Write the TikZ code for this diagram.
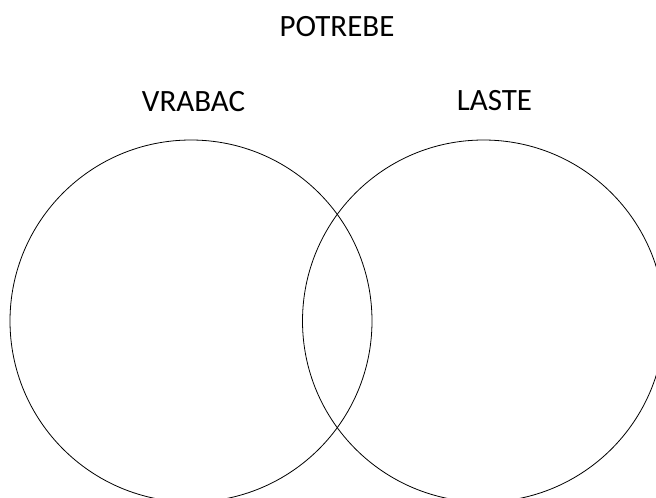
\documentclass[tikz,border=0pt]{standalone}
\usepackage{fontspec}
\setmainfont{Carlito}
\usetikzlibrary{positioning}

\begin{document}
\begin{tikzpicture}[x=1pt,y=-1pt,set/.style={draw,circle,line width=0.8pt,minimum size=362pt,inner sep=0pt},label/.style={font=\fontsize{31}{36}\selectfont,inner sep=0pt,anchor=base}]
				  \useasboundingbox (0,0) rectangle (656,498);
				  \node[label]          (potrebe) at (337,36)      {POTREBE};
				  \node[label]          (vrabac)  at (193.5,111)   {VRABAC};
				  \node[label]          (laste)   at (494.5,110.5) {LASTE};
				  \node[set]            (left)    at (191,321)     {};
				  \node[set]            (right)   at (483.5,321)   {};
			\end{tikzpicture}
\end{document}
